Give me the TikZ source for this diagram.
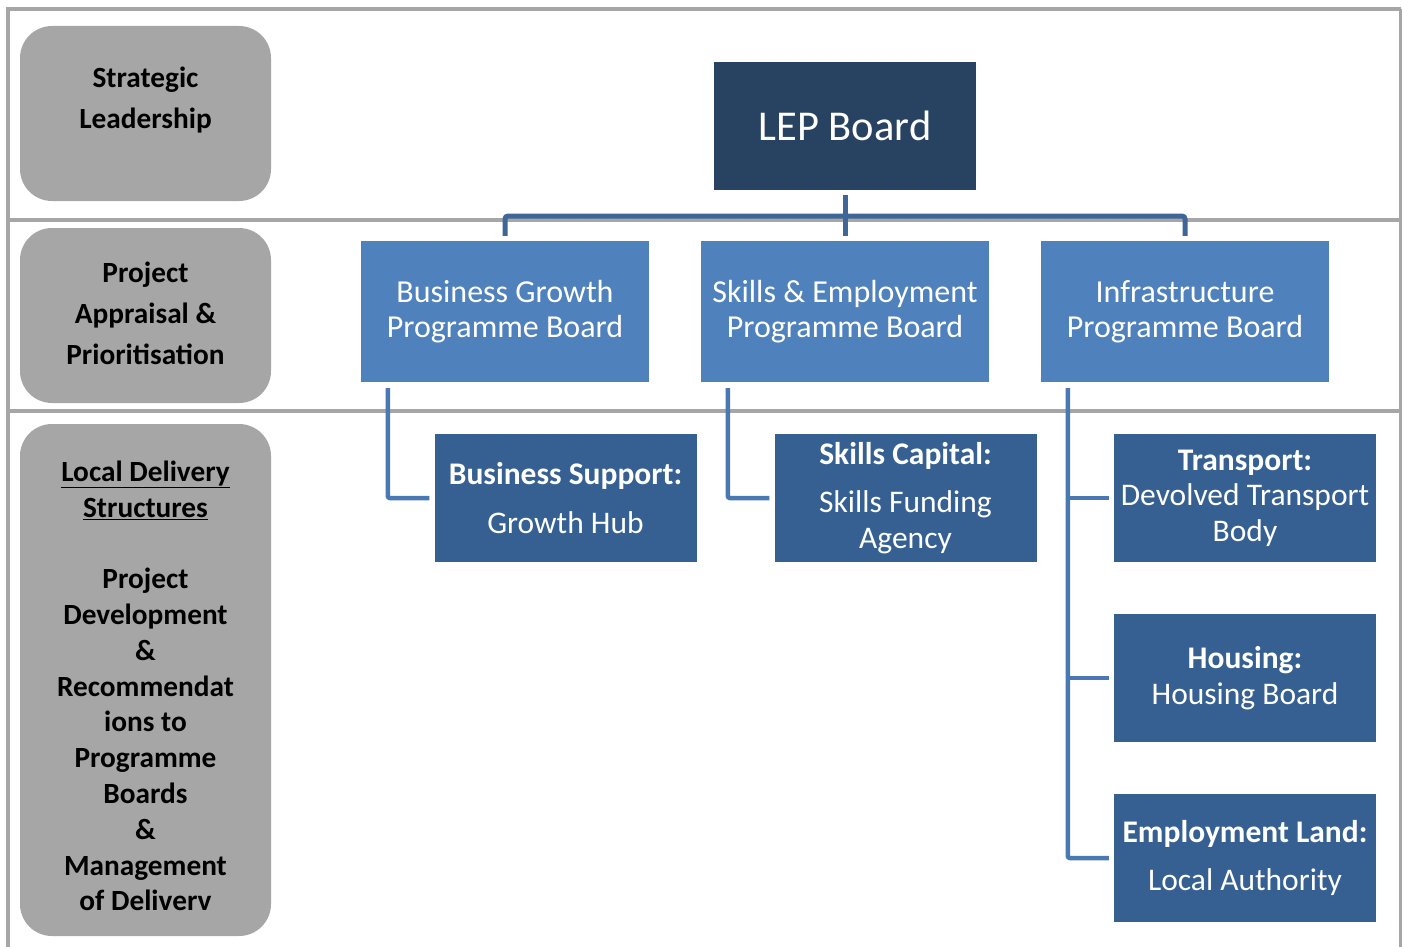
\documentclass[tikz,border=0pt]{standalone}
\usepackage{fontspec}
\setmainfont{Carlito}
\definecolor{navy}{RGB}{40,66,98}
\definecolor{midblue}{RGB}{79,129,189}
\definecolor{childblue}{RGB}{54,96,146}
\definecolor{toplinec}{RGB}{62,102,152}
\definecolor{childlinec}{RGB}{74,120,178}
\definecolor{grayc}{RGB}{166,166,166}
\begin{document}
\begin{tikzpicture}[x=1pt,y=-1pt,
  sep/.style={draw=grayc, line width=4pt},
  graybox/.style={fill=grayc, rounded corners=32pt, minimum width=251pt, inner sep=0pt},
  lbl/.style={font=\fontsize{29.3}{41}\selectfont\bfseries, align=center, text=black},
  leptbox/.style={fill=navy, minimum width=262pt, minimum height=128pt, inner sep=0pt, text=white, font=\fontsize{42.5}{48}\selectfont},
  progbox/.style={fill=midblue, minimum width=288pt, minimum height=141pt, inner sep=0pt, text=white, align=center, font=\fontsize{32}{35}\selectfont},
  delbox/.style={fill=childblue, minimum width=262pt, minimum height=128pt, inner sep=0pt, text=white, align=center, font=\fontsize{31.5}{35.5}\selectfont},
  topline/.style={draw=toplinec, line width=5pt, rounded corners=3pt},
  childline/.style={draw=childlinec, line width=4.5pt, rounded corners=2pt}]
\useasboundingbox (0,0) rectangle (1402,947);
% frame and row separators
\draw[sep] (8,9) -- (8,947);
\draw[sep] (6,9) -- (1401,9);
\draw[draw=grayc, line width=3pt] (1400,9) -- (1400,947);
\draw[sep] (8,219.5) -- (1400,219.5);
\draw[sep] (8,410.5) -- (1400,410.5);
% left gray boxes
\node[graybox, minimum height=175pt] (sl) at (145.5,113.5) {};
\node[graybox, minimum height=175pt] (pa) at (145.5,315.5) {};
\node[graybox, minimum height=512pt] (ld) at (145.5,680) {};
\node[lbl] (slt) at (145.5,100) {Strategic\\Leadership};
\node[lbl] (pat) at (145.5,313) {Project\\Appraisal \&\\Prioritisation};
\node[lbl, font=\fontsize{29.3}{35.8}\selectfont\bfseries] (ldt) at (145.5,686)
  {\underline{Local Delivery}\\\underline{Structures}\\[35.8pt]Project\\Development\\\&\\Recommendat\\ions to\\Programme\\Boards\\\&\\Management\\of Deliverv};
% boxes
\node[leptbox] (lep) at (845,126) {LEP Board};
\node[progbox] (bg) at (505,311.5) {Business Growth\\Programme Board};
\node[progbox] (se) at (845,311.5) {Skills \& Employment\\Programme Board};
\node[progbox] (inf) at (1185,311.5) {Infrastructure\\Programme Board};
\node[delbox] (bs) at (565.5,498) {\textbf{Business Support:}\\[13pt]Growth Hub};
\node[delbox] (sc) at (905.5,498) {\textbf{Skills Capital:}\\[13pt]Skills Funding\\Agency};
\node[delbox] (tr) at (1245,498) {\textbf{Transport:}\\Devolved Transport\\Body};
\node[delbox] (ho) at (1245,678) {\textbf{Housing:}\\Housing Board};
\node[delbox] (el) at (1245,858) {\textbf{Employment Land:}\\[13pt]Local Authority};
% top connectors
\coordinate (bus) at (845,216);
\draw[topline] ([yshift=5pt]bg.north) |- (bus) -| ([yshift=5pt]inf.north);
\draw[draw=toplinec, line width=5pt] ([yshift=-5pt]lep.south) -- ([yshift=5pt]se.north);
% child connectors
\draw[childline] ([xshift=27pt,yshift=-6pt]bg.south west) |- ([xshift=-5pt]bs.west);
\draw[childline] ([xshift=27pt,yshift=-6pt]se.south west) |- ([xshift=-5pt]sc.west);
\coordinate (infdrop) at ([xshift=27pt,yshift=-6pt]inf.south west);
\draw[childline] (infdrop) |- ([xshift=-5pt]el.west);
\draw[draw=childlinec, line width=4.5pt] (infdrop |- tr.west) -- ([xshift=-5pt]tr.west);
\draw[draw=childlinec, line width=4.5pt] (infdrop |- ho.west) -- ([xshift=-5pt]ho.west);
\end{tikzpicture}
\end{document}
